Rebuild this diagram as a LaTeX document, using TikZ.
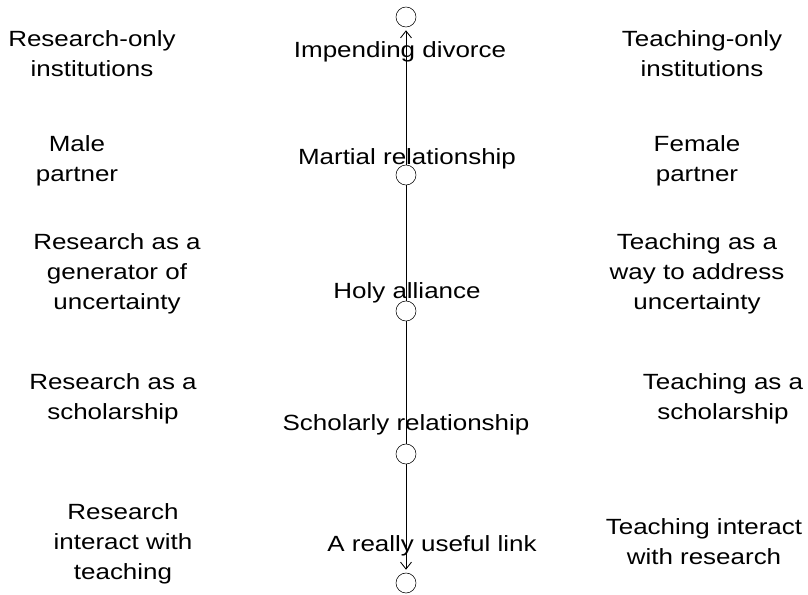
\documentclass[tikz,border=0pt]{standalone}
\usepackage{fontspec}
\setmainfont[FakeStretch=1.18]{Liberation Sans}
\usetikzlibrary{arrows.meta}

\tikzset{
    lbl/.style={align=center, inner sep=0pt, font=\fontsize{15.65}{21.3}\selectfont},
    knot/.style={draw, circle, minimum size=0.5cm, inner sep=0pt},
    link/.style={line width=0.6pt},
    tip/.style={-{Straight Barb[length=0.175cm, width=0.275cm]}, shorten >=0.075cm}
}

\begin{document}
\begin{tikzpicture}[x=0.025cm, y=-0.025cm]
    \useasboundingbox (0, 0) rectangle (808, 594);

        % the scale
        \node[knot] (k1) at (406, 17){};
        \node[knot] (k2) at (406, 175){};
        \node[knot] (k3) at (406, 311){};
        \node[knot] (k4) at (406, 454){};
        \node[knot] (k5) at (406, 583){};
            \draw[link, tip] (k2) to (k1);
            \draw[link] (k2) to (k3);
            \draw[link] (k3) to (k4);
            \draw[link, tip] (k4) to (k5);

        % middle
        \node[lbl, anchor=base] (m1) at (400, 57){Impending divorce};
        \node[lbl, anchor=base] (m2) at (407, 164){Martial relationship};
        \node[lbl, anchor=base] (m3) at (407, 298){Holy alliance};
        \node[lbl, anchor=base] (m4) at (406, 430){Scholarly relationship};
        \node[lbl, anchor=base] (m5) at (432, 551){A really useful link};

        % research side
        \node[lbl] (r1) at (92, 54){Research-only\\institutions};
        \node[lbl] (r2) at (77, 161){Male\\partner};
        \node[lbl] (r3) at (117, 274){Research as a\\generator of\\uncertainty};
        \node[lbl] (r4) at (113, 399){Research as a\\scholarship};
        \node[lbl] (r5) at (123, 544){Research\\interact with\\teaching};

        % teaching side
        \node[lbl] (t1) at (702, 54){Teaching-only\\institutions};
        \node[lbl] (t2) at (697, 161){Female\\partner};
        \node[lbl] (t3) at (697, 274){Teaching as a\\way to address\\uncertainty};
        \node[lbl] (t4) at (723, 399){Teaching as a\\scholarship};
        \node[lbl] (t5) at (704, 542){Teaching interact\\with research};

\end{tikzpicture}
\end{document}
